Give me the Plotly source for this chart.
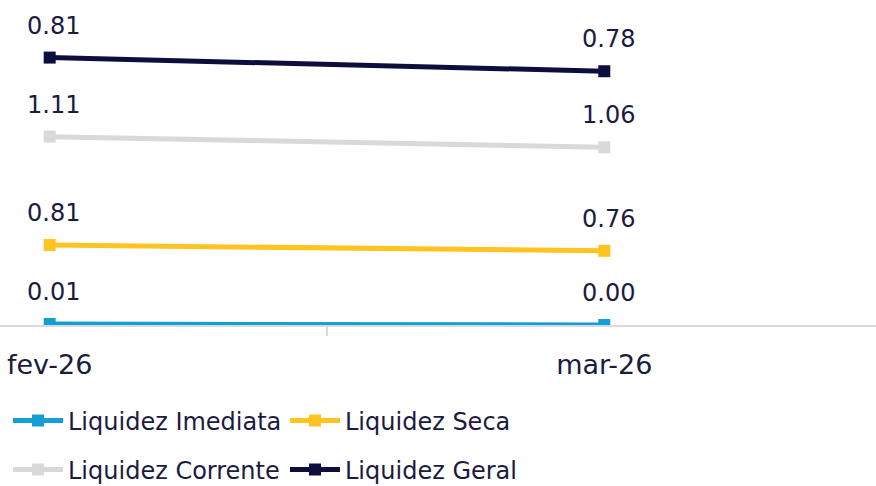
import plotly.graph_objects as go
import numpy as np

categories = ["fev-26", "mar-26"]
series_names = ["Liquidez Imediata", "Liquidez Seca", "Liquidez Corrente", "Liquidez Geral"]
imediata = [0.01, 0.00]
seca = [0.81, 0.76]
corrente = [1.11, 1.06]
geral = [0.81, 0.78]

colors = ["#129FD6", "#FFC420", "#D9D9D9", "#0E0E3E"]
text_color = "#1B1B40"
font_family = "DejaVu Sans"

values = [imediata, seca, corrente, geral]
legend_ids = ["legend", "legend", "legend2", "legend2"]

fig = go.Figure()
for name, vals, col, lg in zip(series_names, values, colors, legend_ids):
    fig.add_trace(go.Scatter(
        x=categories, y=vals, name=name, mode="lines+markers",
        stackgroup="one", fill="none",
        line=dict(color=col, width=5),
        marker=dict(symbol="square", size=12, color=col),
        legend=lg,
    ))

cum = np.cumsum(np.array(values), axis=0)
annotations = []
for i, vals in enumerate(values):
    for j, cat in enumerate(categories):
        annotations.append(dict(
            x=cat, y=float(cum[i][j]), text=f"{vals[j]:.2f}",
            showarrow=False, yanchor="bottom", xanchor="center",
            yshift=16, xshift=4,
            font=dict(size=24, color=text_color, family=font_family),
        ))

leg_common = dict(
    orientation="h", xref="container", yref="container",
    xanchor="left", yanchor="middle",
    font=dict(size=24, color=text_color, family=font_family),
    itemwidth=50, entrywidth=212, bgcolor="rgba(0,0,0,0)",
    traceorder="normal",
)

fig.update_layout(
    width=876, height=486,
    margin=dict(l=0, r=0, t=0, b=161, autoexpand=False),
    paper_bgcolor="white", plot_bgcolor="white",
    showlegend=True,
    legend=dict(x=8 / 876, y=(486 - 421) / 486, **leg_common),
    legend2=dict(x=8 / 876, y=(486 - 470) / 486, **leg_common),
    annotations=annotations,
    xaxis=dict(
        type="category", range=[-0.0896, 1.4899],
        showgrid=False, showline=True, linecolor="#D9D9D9", linewidth=1.5,
        tickson="boundaries", ticks="outside", ticklen=9, tickcolor="#D9D9D9",
        tickwidth=1.5,
        tickfont=dict(size=27, color=text_color, family=font_family),
        ticklabelstandoff=15,
    ),
    yaxis=dict(
        range=[0, 325 / 97.6], visible=False, showgrid=False, zeroline=False,
    ),
)

fig.write_html(
    "out.html",
    config={"displayModeBar": False},
    post_script="document.body.style.margin='0px';",
)
